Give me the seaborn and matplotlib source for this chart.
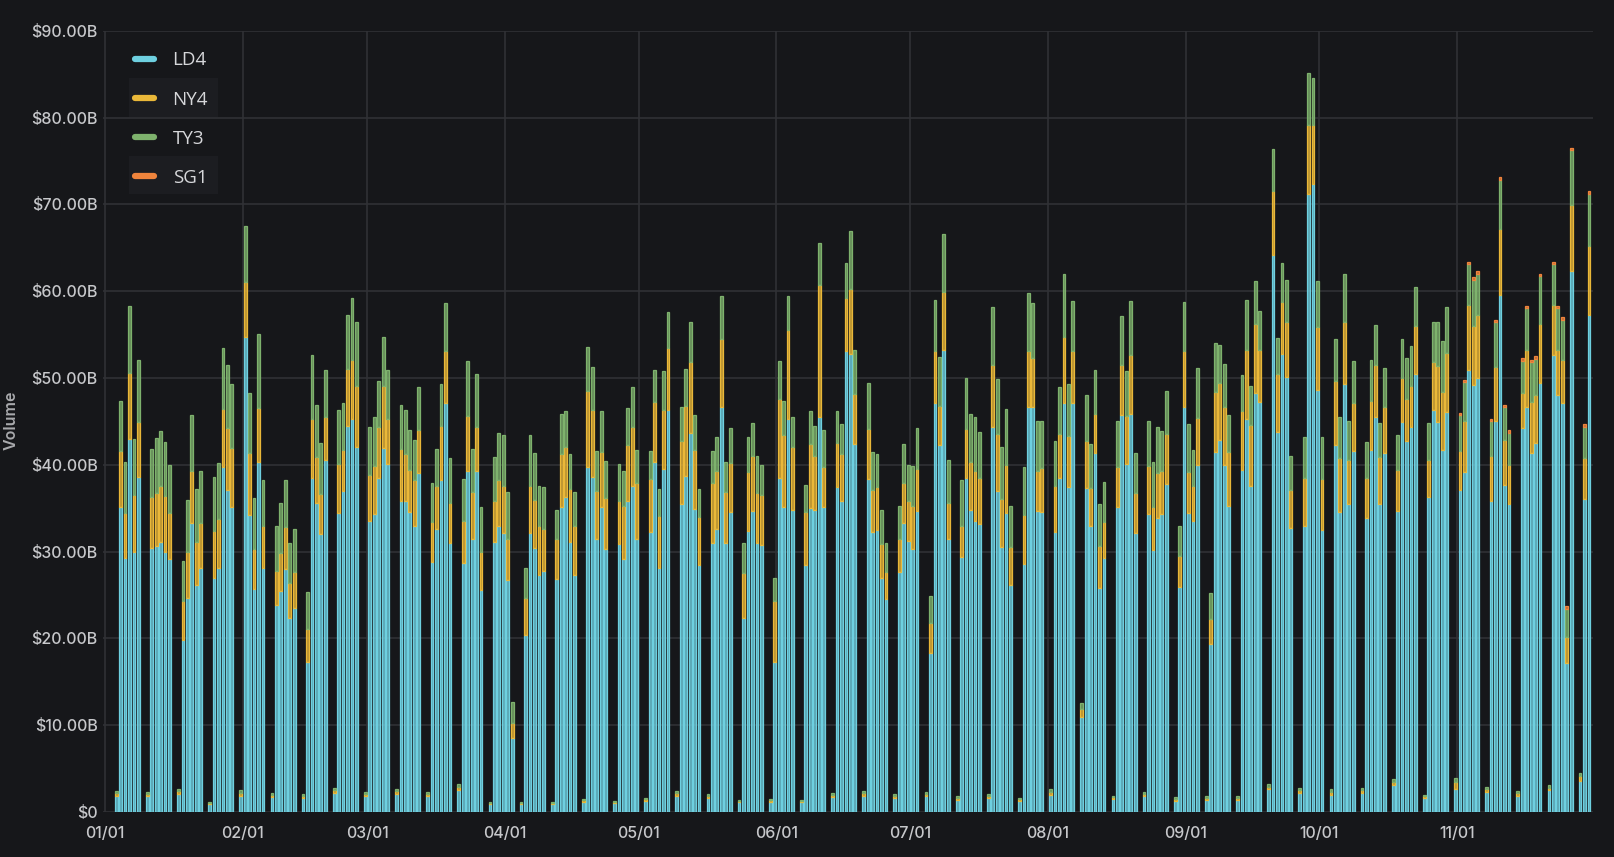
import numpy as np
import pandas as pd
import matplotlib
matplotlib.use("Agg")
import matplotlib.pyplot as plt
import seaborn as sns
from matplotlib.lines import Line2D
from matplotlib.patches import Rectangle

# ---------------- data ($B per day) ----------------
SITES = ["LD4", "NY4", "TY3", "SG1"]
COLORS = {"LD4": "#6ED0E0", "NY4": "#EAB839", "TY3": "#7EB26D", "SG1": "#EF843C"}
YEAR_START = "2021-01-01"
FIRST_SUNDAY = "2021-01-03"
MONTH_LABELS = ["01/01", "02/01", "03/01", "04/01", "05/01", "06/01",
                "07/01", "08/01", "09/01", "10/01", "11/01"]
Y_TICKS = [0, 10, 20, 30, 40, 50, 60, 70, 80, 90]

# one row per week: Sun, Mon, Tue, Wed, Thu, Fri  (Saturdays carry no volume)
LD4 = [
    [1.9, 35.1, 29.3, 43.0, 29.9, 38.6], [1.8, 30.4, 30.6, 31.1, 29.9, 29.2],
    [2.1, 19.8, 24.6, 33.3, 26.2, 28.1], [0.9, 27.0, 28.1, 39.7, 37.1, 35.1],
    [1.9, 54.7, 34.2, 25.7, 40.3, 28.1], [1.7, 23.8, 25.4, 28.0, 22.3, 23.5],
    [1.6, 17.3, 38.5, 35.6, 32.0, 40.6], [2.2, 34.4, 37.0, 44.5, 45.3, 42.1],
    [1.8, 33.5, 34.3, 38.5, 41.9, 40.1], [2.1, 35.8, 35.8, 34.6, 33.0, 39.1],
    [1.8, 28.8, 32.6, 38.3, 47.1, 31.0], [2.5, 28.7, 39.3, 31.4, 39.3, 25.6],
    [0.9, 31.1, 32.9, 32.1, 26.7, 8.5], [0.9, 20.4, 32.1, 30.4, 27.3, 27.8],
    [0.9, 26.8, 35.1, 36.3, 31.1, 27.3], [1.2, 39.7, 38.6, 31.4, 35.1, 30.3],
    [1.0, 30.9, 29.2, 35.8, 37.6, 31.5], [1.3, 32.2, 40.3, 28.1, 39.5, 46.3],
    [1.9, 35.5, 38.7, 43.7, 34.9, 28.5], [1.6, 31.0, 32.6, 46.7, 31.0, 34.6],
    [1.1, 22.3, 32.4, 34.7, 31.0, 30.8], [1.2, 17.3, 38.5, 35.1, 45.3, 34.8],
    [1.1, 28.5, 35.0, 34.8, 45.5, 35.1], [1.7, 37.4, 35.8, 53.1, 52.8, 42.4],
    [1.9, 38.4, 32.2, 32.5, 26.9, 24.5], [1.6, 27.6, 33.3, 31.2, 30.3, 34.7],
    [1.8, 18.3, 47.1, 42.3, 53.2, 31.4], [1.4, 29.4, 38.5, 34.8, 33.5, 33.2],
    [1.6, 44.3, 37.0, 30.5, 34.4, 26.1], [1.3, 28.6, 46.6, 46.6, 34.7, 34.6],
    [2.0, 32.2, 38.5, 47.1, 37.4, 47.1], [10.9, 37.3, 32.9, 41.3, 25.8, 29.3],
    [1.5, 35.1, 45.7, 40.1, 45.8, 32.1], [1.8, 34.3, 30.2, 33.9, 34.3, 37.8],
    [1.3, 25.9, 46.7, 34.4, 33.5, 40.0], [1.4, 19.4, 41.5, 42.9, 40.0, 35.2],
    [1.4, 39.4, 45.3, 37.6, 48.3, 47.2], [2.6, 64.2, 43.8, 52.8, 50.1, 32.7],
    [2.2, 32.9, 71.2, 72.3, 48.6, 32.5], [2.0, 42.3, 34.6, 49.3, 35.5, 41.6],
    [2.2, 33.9, 41.7, 45.5, 35.5, 41.3], [3.1, 34.7, 44.9, 42.7, 44.3, 50.5],
    [1.6, 36.3, 46.3, 44.9, 41.7, 46.1], [2.6, 37.1, 39.2, 50.9, 49.2, 50.0],
    [2.3, 35.8, 45.0, 59.5, 37.7, 35.5], [1.9, 44.2, 46.6, 41.3, 42.5, 49.4],
    [2.5, 52.6, 48.0, 47.1, 17.2, 62.3], [3.6, 36.0, 57.2],
]
NY4 = [
    [0.25, 6.5, 5.1, 7.6, 6.6, 6.3], [0.25, 5.9, 6.2, 6.4, 6.5, 5.2],
    [0.3, 4.5, 5.4, 6.0, 4.9, 5.2], [0.15, 5.4, 5.7, 6.7, 7.1, 6.8],
    [0.3, 6.4, 7.1, 4.6, 6.2, 4.8], [0.25, 4.0, 4.4, 4.8, 4.1, 4.1],
    [0.25, 3.8, 6.8, 5.3, 4.6, 4.9], [0.3, 5.7, 4.7, 6.5, 6.8, 7.0],
    [0.25, 5.3, 5.5, 5.8, 7.2, 5.2], [0.3, 6.0, 5.4, 4.8, 5.2, 4.9],
    [0.25, 4.6, 4.9, 6.2, 6.0, 4.6], [0.35, 4.8, 6.3, 5.5, 5.0, 4.4],
    [0.15, 4.7, 5.4, 5.5, 4.8, 1.8], [0.15, 4.3, 5.4, 5.5, 5.7, 4.8],
    [0.15, 4.6, 6.1, 5.8, 6.1, 5.7], [0.15, 8.8, 7.7, 5.6, 6.4, 5.9],
    [0.15, 4.9, 6.1, 6.5, 6.8, 6.4], [0.15, 6.2, 6.9, 6.0, 6.8, 7.1],
    [0.25, 7.2, 8.1, 8.1, 6.8, 5.5], [0.25, 6.9, 6.7, 7.8, 5.9, 5.6],
    [0.15, 5.2, 6.8, 6.3, 5.8, 5.7], [0.15, 7.0, 9.1, 8.3, 10.2, 7.3],
    [0.15, 6.1, 7.4, 6.2, 15.2, 4.6], [0.25, 5.1, 5.4, 6.1, 7.5, 5.8],
    [0.25, 5.7, 4.9, 4.9, 4.0, 3.2], [0.25, 3.8, 4.6, 4.6, 5.0, 4.8],
    [0.25, 3.5, 6.0, 4.5, 6.7, 4.2], [0.2, 3.6, 5.6, 5.5, 5.8, 5.3],
    [0.25, 7.2, 6.6, 5.6, 5.6, 4.4], [0.15, 5.6, 6.5, 5.7, 4.6, 5.0],
    [0.3, 5.3, 5.0, 7.6, 5.9, 6.0], [1.0, 5.4, 4.4, 4.5, 4.8, 4.1],
    [0.2, 4.6, 5.8, 5.5, 6.8, 4.7], [0.25, 5.6, 4.9, 5.1, 5.0, 5.7],
    [0.2, 3.6, 6.4, 4.8, 4.0, 5.4], [0.2, 2.8, 6.9, 6.5, 6.7, 6.3],
    [0.2, 6.8, 7.9, 7.0, 7.9, 6.0], [0.3, 7.3, 6.6, 6.0, 6.4, 4.4],
    [0.3, 5.6, 7.9, 6.8, 7.3, 5.9], [0.3, 7.4, 6.2, 7.2, 5.1, 5.5],
    [0.3, 4.6, 5.7, 6.0, 5.4, 5.4], [0.4, 4.7, 5.1, 4.9, 4.8, 5.5],
    [0.2, 4.3, 5.5, 6.5, 6.7, 6.8], [0.9, 4.5, 5.8, 7.5, 6.8, 7.3],
    [0.3, 5.2, 6.3, 7.7, 5.2, 4.5], [0.25, 4.1, 6.6, 5.9, 5.5, 6.8],
    [0.3, 5.8, 5.2, 5.0, 3.0, 7.6], [0.5, 4.8, 8.0],
]
TY3 = [
    [0.25, 5.7, 5.9, 7.7, 6.5, 7.2], [0.25, 5.5, 6.3, 6.4, 6.2, 5.6],
    [0.3, 4.6, 5.9, 6.4, 6.1, 6.0], [0.15, 6.2, 6.4, 7.0, 7.3, 7.4],
    [0.3, 6.4, 7.0, 5.9, 8.6, 5.4], [0.25, 5.1, 5.8, 5.4, 4.6, 5.0],
    [0.25, 4.2, 7.4, 6.0, 5.9, 5.4], [0.3, 6.2, 5.4, 6.2, 7.1, 7.4],
    [0.25, 5.5, 5.7, 5.4, 5.6, 5.6], [0.3, 5.1, 5.1, 4.6, 4.7, 5.0],
    [0.25, 4.5, 4.3, 4.8, 5.5, 5.2], [0.35, 4.9, 6.3, 4.9, 6.2, 5.1],
    [0.15, 5.1, 5.4, 5.8, 5.4, 2.4], [0.15, 3.4, 5.9, 5.5, 4.5, 4.8],
    [0.15, 3.4, 4.7, 4.1, 4.0, 3.9], [0.15, 5.1, 5.0, 4.6, 4.7, 4.2],
    [0.15, 4.3, 4.0, 4.2, 4.6, 3.8], [0.15, 3.2, 3.7, 3.1, 4.5, 4.2],
    [0.25, 4.0, 4.2, 4.7, 4.0, 3.2], [0.25, 3.7, 3.9, 4.9, 3.4, 4.0],
    [0.15, 3.5, 4.0, 3.8, 4.2, 3.5], [0.15, 2.6, 4.3, 4.0, 3.9, 3.4],
    [0.15, 3.1, 3.8, 3.5, 4.9, 4.3], [0.25, 3.7, 3.5, 4.0, 6.6, 5.0],
    [0.25, 5.3, 4.4, 3.8, 3.9, 3.3], [0.25, 3.8, 4.5, 4.2, 4.6, 4.7],
    [0.25, 3.1, 5.9, 5.6, 6.7, 5.0], [0.2, 5.3, 5.9, 5.5, 6.2, 5.3],
    [0.25, 6.7, 6.3, 5.9, 6.4, 4.7], [0.15, 5.5, 6.7, 6.3, 5.7, 5.4],
    [0.3, 5.2, 5.5, 7.3, 6.0, 5.8], [0.6, 5.3, 5.1, 5.1, 4.9, 4.6],
    [0.2, 5.3, 5.6, 5.2, 6.3, 4.6], [0.25, 5.1, 5.2, 5.3, 4.6, 5.0],
    [0.2, 3.4, 5.6, 5.5, 4.2, 5.8], [0.2, 3.0, 5.6, 4.4, 4.9, 4.2],
    [0.2, 4.1, 5.8, 4.5, 5.0, 4.5], [0.3, 4.9, 4.2, 4.4, 4.8, 3.9],
    [0.3, 4.7, 6.0, 5.5, 5.3, 4.8], [0.3, 4.8, 4.7, 5.5, 4.4, 4.8],
    [0.3, 4.1, 4.7, 4.6, 3.9, 4.4], [0.3, 4.0, 4.5, 4.7, 4.6, 4.5],
    [0.2, 4.2, 4.6, 5.1, 5.8, 5.3], [0.4, 4.1, 4.5, 4.7, 5.3, 4.7],
    [0.3, 4.0, 5.1, 5.6, 3.7, 3.7], [0.25, 3.7, 4.8, 4.6, 4.2, 5.5],
    [0.3, 4.7, 4.8, 4.6, 3.2, 6.3], [0.4, 3.6, 6.0],
]
SG1 = [
    [0, 0, 0, 0, 0, 0], [0, 0, 0, 0, 0, 0], [0, 0, 0, 0, 0, 0], [0, 0, 0, 0, 0, 0],
    [0, 0, 0, 0, 0, 0], [0, 0, 0, 0, 0, 0], [0, 0, 0, 0, 0, 0], [0, 0, 0, 0, 0, 0],
    [0, 0, 0, 0, 0, 0], [0, 0, 0, 0, 0, 0], [0, 0, 0, 0, 0, 0], [0, 0, 0, 0, 0, 0],
    [0, 0, 0, 0, 0, 0], [0, 0, 0, 0, 0, 0], [0, 0, 0, 0, 0, 0], [0, 0, 0, 0, 0, 0],
    [0, 0, 0, 0, 0, 0], [0, 0, 0, 0, 0, 0], [0, 0, 0, 0, 0, 0], [0, 0, 0, 0, 0, 0],
    [0, 0, 0, 0, 0, 0], [0, 0, 0, 0, 0, 0], [0, 0, 0, 0, 0, 0], [0, 0, 0, 0, 0, 0],
    [0, 0, 0, 0, 0, 0], [0, 0, 0, 0, 0, 0], [0, 0, 0, 0, 0, 0], [0, 0, 0, 0, 0, 0],
    [0, 0, 0, 0, 0, 0], [0, 0, 0, 0, 0, 0], [0, 0, 0, 0, 0, 0], [0, 0, 0, 0, 0, 0],
    [0, 0, 0, 0, 0, 0], [0, 0, 0, 0, 0, 0], [0, 0, 0, 0, 0, 0], [0, 0, 0, 0, 0, 0],
    [0, 0, 0, 0, 0, 0], [0, 0, 0, 0, 0, 0], [0, 0, 0, 0, 0, 0], [0, 0, 0, 0, 0, 0],
    [0, 0, 0, 0, 0, 0], [0, 0, 0, 0, 0, 0], [0, 0, 0, 0, 0, 0],
    [0, 0.3, 0.3, 0.3, 0.3, 0.3], [0, 0.3, 0.3, 0.3, 0.3, 0.3],
    [0, 0.3, 0.3, 0.3, 0.3, 0.3], [0, 0.3, 0.3, 0.3, 0.3, 0.3], [0, 0.3, 0.3],
]

# ---------------- build long table ----------------
start = pd.Timestamp(YEAR_START)
sun0 = pd.Timestamp(FIRST_SUNDAY)
rows = []
for w, week in enumerate(LD4):
    for k in range(len(week)):
        date = sun0 + pd.Timedelta(days=7 * w + k)
        day = (date - start).days + 0.6
        for site, arr in zip(SITES, [LD4, NY4, TY3, SG1]):
            rows.append((day, site, arr[w][k]))
df = pd.DataFrame(rows, columns=["day", "site", "volume"])

month_pos = [(pd.Timestamp(2021, m, 1) - start).days for m in range(1, 12)]

# ---------------- style ----------------
BG = "#16171a"
GRID = "#303135"
TXT = "#c7c8cb"
sns.set_theme(style="dark")
plt.rcParams["font.family"] = ["Inter", "DejaVu Sans"]

fig = plt.figure(figsize=(16.15, 8.57), dpi=100, facecolor=BG)
W, H = 1615, 857
ax = fig.add_axes([103 / W, (H - 812) / H, 1490 / W, 781.3 / H])
ax.set_facecolor(BG)

sns.histplot(
    data=df, x="day", weights="volume", hue="site",
    hue_order=["SG1", "TY3", "NY4", "LD4"], palette=COLORS,
    multiple="stack", discrete=True, shrink=0.62,
    legend=False, ax=ax, alpha=1.0, linewidth=0.9,
)

for p in ax.patches:
    if p.get_height() <= 0:
        p.set_visible(False)
        continue
    r, g, b, _ = p.get_facecolor()
    p.set_edgecolor((r, g, b, 1.0))
    p.set_facecolor((r, g, b, 0.78))

ax.set_xlim(-0.36, 334.5)
ax.set_ylim(0, 90)
ax.set_xticks(month_pos)
ax.set_xticklabels(MONTH_LABELS)
ax.set_yticks(Y_TICKS)
ax.set_yticklabels(["$0"] + [f"${v:.2f}B" for v in Y_TICKS[1:]])
ax.tick_params(axis="x", length=0, pad=10, labelsize=11.5, labelcolor=TXT)
ax.tick_params(axis="y", length=0, pad=4, labelsize=11.5, labelcolor=TXT)
for lab in ax.get_xticklabels() + ax.get_yticklabels():
    lab.set_fontweight("medium")
ax.grid(True, color=GRID, linewidth=1.2)
ax.set_axisbelow(True)
for s in ax.spines.values():
    s.set_visible(False)
ax.set_xlabel("")
ax.set_ylabel("")
fig.text(11 / W, 1 - 420 / H, "Volume", rotation=90, ha="center", va="center",
         fontsize=11.5, color="#a9aaad", fontweight="semibold")

# hover boxes behind two legend entries (drawn beneath the legend)
for y0, y1 in [(78, 117), (156, 194)]:
    box = Rectangle((129 / W, 1 - y1 / H), 89 / W, (y1 - y0) / H,
                    transform=fig.transFigure, facecolor="#1c1d21",
                    edgecolor="none", zorder=6, clip_on=False)
    ax.add_artist(box)

handles = [Line2D([0], [0], color=COLORS[s], lw=4.5, solid_capstyle="round") for s in SITES]
leg = ax.legend(handles, SITES, loc="upper left", bbox_to_anchor=(0.0165, 0.983),
                frameon=False, handlelength=1.0, handletextpad=1.0,
                labelspacing=1.13, prop={"family": "Open Sans", "size": 13.5},
                labelcolor="#d6d7da", borderaxespad=0)
leg.set_zorder(10)

fig.savefig("out.png", dpi=100, facecolor=BG)
